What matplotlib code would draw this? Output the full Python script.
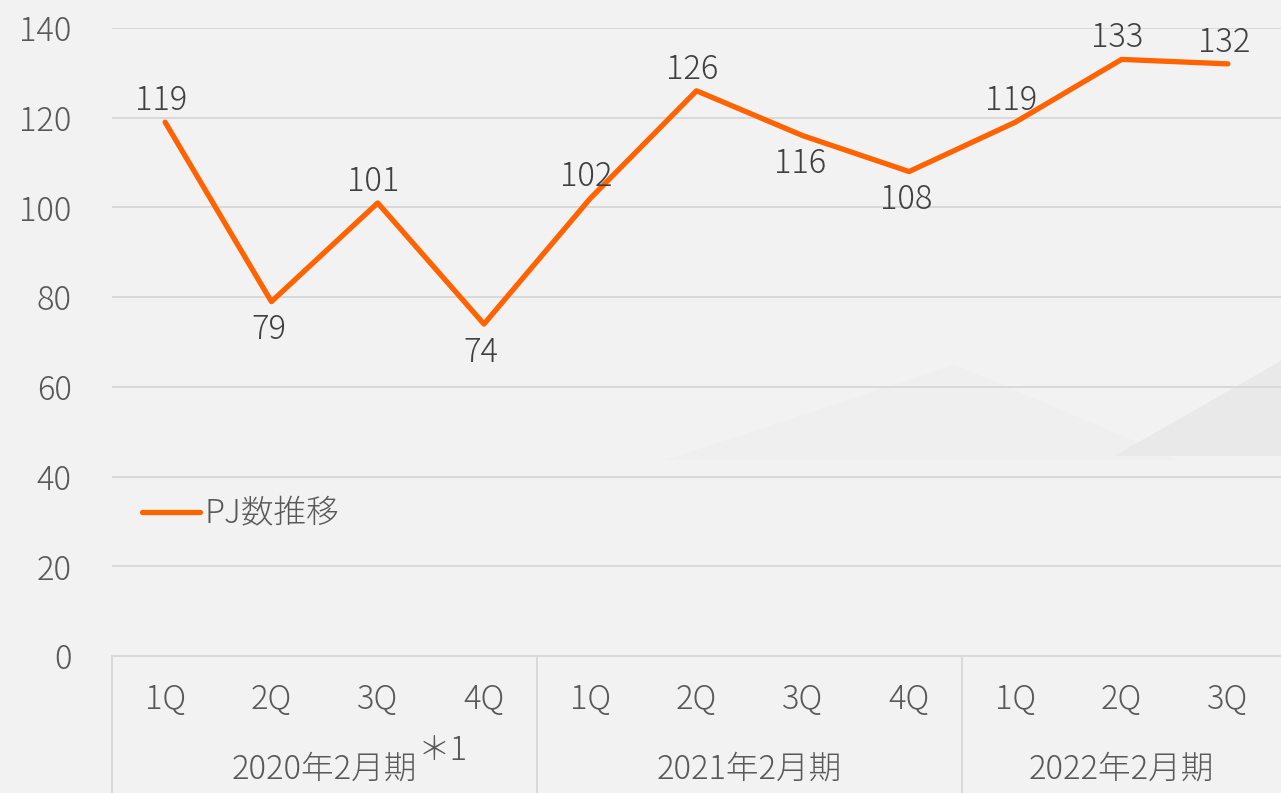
import matplotlib.pyplot as plt
from matplotlib.patches import Polygon
from matplotlib.transforms import blended_transform_factory

plt.rcParams['font.family'] = ['Noto Sans CJK JP', 'DejaVu Sans']
plt.rcParams['font.weight'] = 'light'

quarters = ['1Q', '2Q', '3Q', '4Q', '1Q', '2Q', '3Q', '4Q', '1Q', '2Q', '3Q']
pj_counts = [119, 79, 101, 74, 102, 126, 116, 108, 119, 133, 132]
label_side = ['up', 'down', 'up', 'down', 'up', 'up', 'down', 'down', 'up', 'up', 'up']
groups = ['2020年2月期', '2021年2月期', '2022年2月期']
group_sizes = [4, 4, 3]
yticks = [0, 20, 40, 60, 80, 100, 120, 140]

bg = '#f2f2f2'
orange = '#ff6200'
tick_col = '#595959'
lbl_col = '#404040'
grid_col = '#d9d9d9'
fs = 23.5

fig = plt.figure(figsize=(12.81, 7.93), dpi=100)
fig.patch.set_facecolor(bg)

# faint background decoration
for pts, c in [([(0.52, 0.42), (0.745, 0.54), (0.92, 0.42)], '#efefef'),
               ([(0.87, 0.425), (1.0, 0.545), (1.0, 0.425)], '#e9e9e9')]:
    fig.patches.append(Polygon(pts, closed=True, transform=fig.transFigure,
                               facecolor=c, edgecolor='none', zorder=-5))

ax = fig.add_axes([112 / 1281, 1 - 656 / 793, 1 - 112 / 1281, (656 - 28) / 793])
ax.set_facecolor('none')
ax.set_zorder(2)

x = list(range(len(quarters)))
ax.plot(x, pj_counts, color=orange, lw=3.8, solid_capstyle='round',
        solid_joinstyle='round', label='PJ数推移', zorder=3)

for xi, v, s in zip(x, pj_counts, label_side):
    if s == 'up':
        ax.annotate(str(v), (xi, v), xytext=(-3, 3), textcoords='offset points',
                    ha='center', va='bottom', fontsize=fs, color=lbl_col)
    else:
        ax.annotate(str(v), (xi, v), xytext=(-2, -8), textcoords='offset points',
                    ha='center', va='top', fontsize=fs, color=lbl_col)

ax.set_xlim(-0.5, len(quarters) - 0.5)
ax.set_ylim(0, 140)
ax.set_yticks(yticks)
ax.tick_params(axis='y', length=0, pad=29, labelsize=fs, labelcolor=tick_col)
ax.set_xticks([])
for s in ['top', 'right', 'left']:
    ax.spines[s].set_visible(False)
ax.spines['bottom'].set_color(grid_col)
ax.spines['bottom'].set_linewidth(1.4)
ax.grid(axis='y', color=grid_col, lw=1.4)
ax.set_axisbelow(True)

# two-level category axis
tr = blended_transform_factory(ax.transData, ax.transAxes)
depth = -(793 - 656) / 628
for xi, q in zip(x, quarters):
    ax.text(xi, -44 / 628, q, transform=tr, ha='center', va='center',
            fontsize=fs, color=tick_col)

start = 0
bounds = [-0.5]
for g, n in zip(groups, group_sizes):
    center = start + (n - 1) / 2
    t = ax.text(center, -113 / 628, g, transform=tr, ha='center', va='center',
                fontsize=fs, color=tick_col)
    if g == groups[0]:
        ax.annotate('＊1', xy=(1, 0.5), xycoords=t, xytext=(0, 13),
                    textcoords='offset points', ha='left', va='center',
                    fontsize=fs, color=tick_col)
    start += n
    bounds.append(start - 0.5)
for b in bounds[:-1]:
    ax.plot([b, b], [0, depth], transform=tr, color=grid_col, lw=1.4, clip_on=False)

ax.legend(loc='center left', bbox_to_anchor=(0.026, 0.226), frameon=False,
          borderpad=0, borderaxespad=0, fontsize=fs, labelcolor=tick_col,
          handlelength=1.75, handletextpad=0.15)

fig.savefig('out.png', dpi=100, facecolor=bg)
